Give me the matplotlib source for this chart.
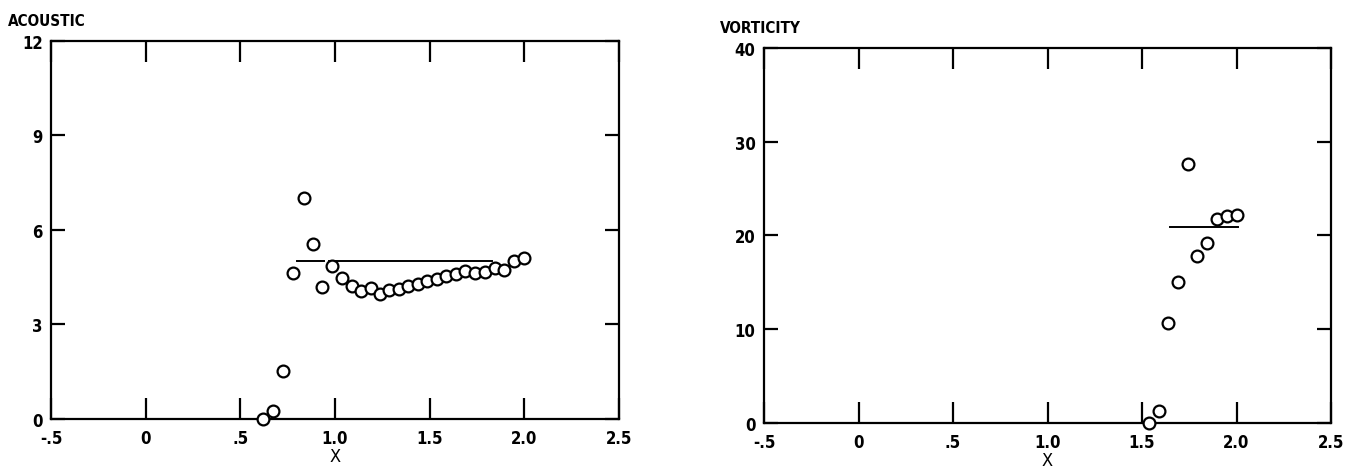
import matplotlib
matplotlib.use("Agg")
import matplotlib.pyplot as plt

plt.rcParams['font.family'] = ['DejaVu Sans']
plt.rcParams['font.stretch'] = 'condensed'
plt.rcParams['font.weight'] = 'bold'

# ---- data ----
acoustic_x = [0.62, 0.675, 0.725, 0.778, 0.836, 0.883, 0.931, 0.985, 1.036, 1.088,
              1.135, 1.188, 1.237, 1.286, 1.337, 1.386, 1.437, 1.487, 1.538, 1.587,
              1.638, 1.689, 1.739, 1.790, 1.843, 1.895, 1.946, 1.998]
acoustic_y = [0.0, 0.26, 1.53, 4.63, 7.02, 5.55, 4.18, 4.87, 4.48, 4.21,
              4.05, 4.16, 3.97, 4.10, 4.13, 4.22, 4.29, 4.37, 4.44, 4.53,
              4.60, 4.71, 4.62, 4.66, 4.79, 4.73, 5.03, 5.10]
acoustic_mean = 5.0
acoustic_mean_spans = [(0.80, 0.94), (0.97, 1.83)]

vorticity_x = [1.537, 1.590, 1.639, 1.689, 1.745, 1.793, 1.846, 1.896, 1.949, 2.002]
vorticity_y = [0.0, 1.25, 10.7, 15.0, 27.6, 17.85, 19.2, 21.8, 22.1, 22.2]
vorticity_mean = 20.9
vorticity_mean_spans = [(1.65, 2.01)]

x_ticks = [-0.5, 0, 0.5, 1.0, 1.5, 2.0, 2.5]
x_ticklabels = ['-.5', '0', '.5', '1.0', '1.5', '2.0', '2.5']
acoustic_yticks = [0, 3, 6, 9, 12]
vorticity_yticks = [0, 10, 20, 30, 40]

fig = plt.figure(figsize=(13.52, 4.77), dpi=100)
ax1 = fig.add_axes([0.0377, 0.1195, 0.4201, 0.7925])
ax2 = fig.add_axes([0.5651, 0.1111, 0.4194, 0.7862])


def style_panel(ax, yticks, title, title_x):
    ax.set_xlim(-0.5, 2.5)
    ax.set_ylim(yticks[0], yticks[-1])
    ax.set_xticks(x_ticks)
    ax.set_xticklabels(x_ticklabels)
    ax.set_yticks(yticks)
    ax.set_yticklabels([str(v) for v in yticks])
    ax.tick_params(axis='x', direction='in', top=True, bottom=True,
                   length=15, width=1.6, pad=7, labelsize=12)
    ax.tick_params(axis='y', direction='in', left=True, right=True,
                   length=10, width=1.6, pad=6, labelsize=12)
    for s in ax.spines.values():
        s.set_linewidth(1.6)
    ax.set_xlabel('X', fontsize=13, labelpad=0)
    ax.text(title_x, 1.035, title, transform=ax.transAxes, fontsize=11,
            fontweight='bold', ha='left', va='bottom')


ax1.plot(acoustic_x, acoustic_y, 'o', mfc='white', mec='black', mew=1.6,
         ms=8.5, ls='none', clip_on=False, zorder=3)
for a, b in acoustic_mean_spans:
    ax1.plot([a, b], [acoustic_mean, acoustic_mean], color='black', lw=1.4, zorder=2)
style_panel(ax1, acoustic_yticks, 'ACOUSTIC', -0.076)

ax2.plot(vorticity_x, vorticity_y, 'o', mfc='white', mec='black', mew=1.6,
         ms=8.5, ls='none', clip_on=False, zorder=3)
for a, b in vorticity_mean_spans:
    ax2.plot([a, b], [vorticity_mean, vorticity_mean], color='black', lw=1.4, zorder=2)
style_panel(ax2, vorticity_yticks, 'VORTICITY', -0.078)

fig.savefig('out.png', dpi=100)
